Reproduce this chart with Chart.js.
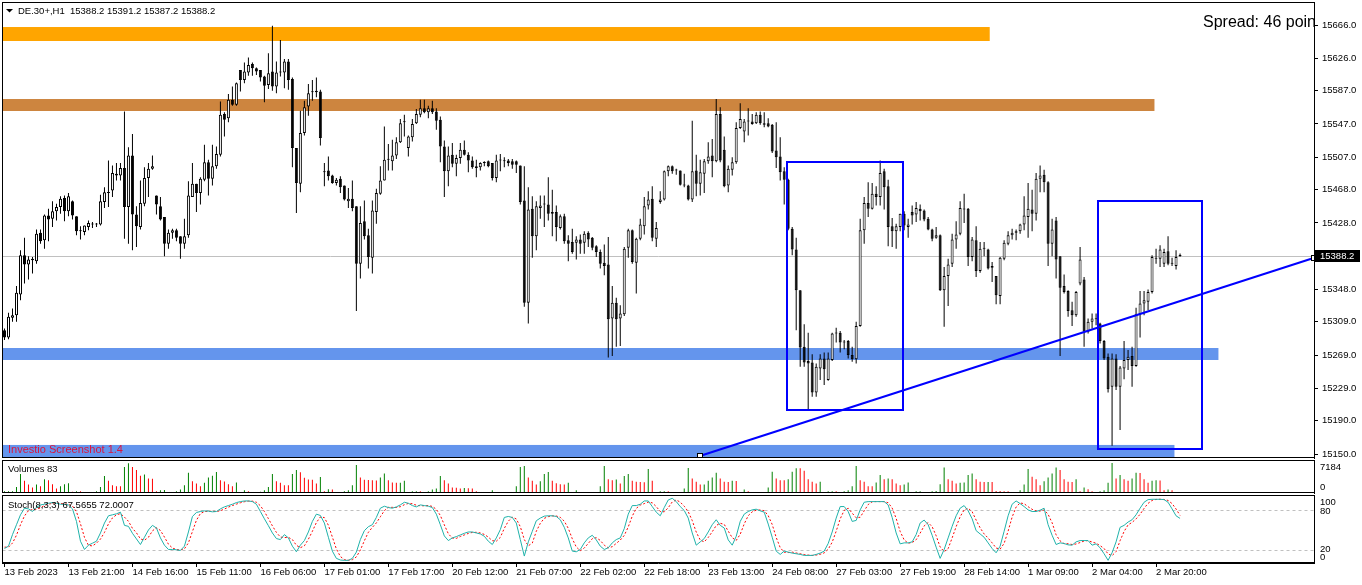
<!DOCTYPE html>
<html>
<head>
<meta charset="utf-8">
<script src="https://cdn.jsdelivr.net/npm/chart.js@4.4.1/dist/chart.umd.min.js"></script>
<style>
html, body { margin: 0; padding: 0; background: #fff; }
#wrap { position: relative; width: 1362px; height: 585px; overflow: hidden; background: #fff; }
canvas { position: absolute; left: 0; }
#cMain { top: 0; width: 1362px; height: 460px; }
#cVol { top: 460px; width: 1362px; height: 34px; }
#cSto { top: 494px; width: 1362px; height: 91px; }
</style>
</head>
<body>
<div id="wrap">
  <canvas id="cMain" width="1362" height="460"></canvas>
  <canvas id="cVol" width="1362" height="34"></canvas>
  <canvas id="cSto" width="1362" height="91"></canvas>
</div>
<script>
// DE.30+ H1, 13 Feb - 2 Mar 2023
const timeLabels = ["13 Feb 2023", "13 Feb 21:00", "14 Feb 16:00", "15 Feb 11:00", "16 Feb 06:00", "17 Feb 01:00",
  "17 Feb 17:00", "20 Feb 12:00", "21 Feb 07:00", "22 Feb 02:00", "22 Feb 18:00", "23 Feb 13:00", "24 Feb 08:00",
  "27 Feb 03:00", "27 Feb 19:00", "28 Feb 14:00", "1 Mar 09:00", "2 Mar 04:00", "2 Mar 20:00"];

const priceTicks = [15666.0, 15626.0, 15587.0, 15547.0, 15507.0, 15468.0, 15428.0,
  15348.0, 15309.0, 15269.0, 15229.0, 15190.0, 15150.0];

const opens = [
  15299,15290,15314,15317,15342,15389,15378,15383,15382,15416,
  15407,15437,15433,15442,15447,15458,15442,15454,15436,15419,
  15417,15423,15426,15426,15426,15453,15464,15467,15485,15485,
  15494,15447,15509,15438,15423,15451,15482,15493,15461,15448,
  15435,15403,15416,15419,15412,15403,15413,15459,15475,15464,
  15480,15501,15481,15496,15510,15559,15554,15576,15570,15612,
  15600,15609,15619,15614,15612,15604,15594,15610,15592,15609,
  15609,15622,15601,15518,15475,15536,15568,15585,15585,15586,
  15490,15491,15485,15476,15481,15473,15454,15457,15448,15379,
  15430,15413,15386,15441,15463,15479,15504,15502,15509,15525,
  15549,15518,15531,15548,15558,15566,15561,15566,15562,15552,
  15520,15490,15510,15499,15506,15516,15510,15503,15496,15495,
  15500,15502,15500,15482,15503,15502,15503,15502,15502,15497,
  15455,15332,15445,15412,15446,15450,15450,15441,15441,15422,
  15436,15407,15405,15404,15408,15404,15416,15410,15400,15393,
  15380,15378,15313,15332,15313,15318,15398,15419,15380,15409,
  15424,15449,15457,15409,15453,15456,15490,15496,15491,15491,
  15474,15473,15456,15491,15475,15487,15502,15509,15502,15559,
  15516,15473,15492,15501,15542,15538,15551,15550,15548,15558,
  15548,15548,15546,15515,15508,15490,15480,15421,15396,15347,
  15279,15262,15260,15224,15253,15265,15239,15263,15295,15296,
  15284,15286,15269,15264,15304,15419,15452,15445,15463,15459,
  15490,15472,15424,15418,15423,15439,15423,15441,15438,15445,
  15443,15433,15420,15410,15413,15347,15364,15379,15408,15415,
  15445,15445,15387,15407,15370,15397,15396,15376,15364,15340,
  15385,15403,15413,15416,15418,15426,15435,15444,15439,15481,
  15486,15477,15403,15431,15388,15352,15346,15323,15317,15355,
  15360,15297,15309,15312,15307,15286,15267,15231,15265,15231,
  15253,15263,15268,15256,15318,15331,15333,15345,15386,15385,
  15379,15394,15379,15376,15388.2];

const highs = [
  15301,15320,15325,15352,15395,15410,15388,15387,15420,15420,
  15438,15445,15454,15451,15460,15461,15464,15455,15436,15424,
  15425,15431,15429,15428,15462,15471,15503,15497,15500,15500,
  15562,15519,15535,15448,15479,15495,15500,15509,15461,15459,
  15435,15420,15421,15421,15412,15433,15478,15500,15475,15483,
  15522,15504,15522,15520,15574,15561,15583,15592,15597,15612,
  15621,15627,15621,15615,15612,15605,15632,15665,15622,15648,
  15625,15625,15603,15518,15563,15575,15595,15600,15603,15588,
  15500,15508,15486,15482,15484,15473,15470,15479,15448,15448,
  15455,15421,15455,15469,15496,15544,15523,15528,15531,15553,
  15558,15533,15553,15565,15576,15576,15569,15575,15566,15556,
  15527,15520,15524,15510,15524,15527,15513,15508,15504,15501,
  15502,15503,15500,15510,15511,15507,15505,15505,15503,15497,
  15496,15471,15460,15454,15461,15461,15483,15468,15449,15438,
  15439,15413,15421,15412,15414,15418,15418,15411,15401,15396,
  15402,15411,15352,15338,15329,15399,15421,15420,15410,15433,
  15459,15466,15472,15429,15466,15491,15497,15497,15493,15491,
  15487,15474,15551,15510,15504,15505,15525,15529,15577,15567,
  15532,15497,15507,15549,15572,15553,15566,15559,15561,15562,
  15561,15554,15547,15549,15531,15495,15481,15423,15410,15347,
  15306,15296,15270,15259,15270,15272,15272,15296,15302,15298,
  15287,15287,15279,15309,15433,15459,15477,15476,15472,15503,
  15493,15480,15434,15427,15439,15442,15433,15449,15453,15450,
  15444,15435,15421,15423,15414,15375,15385,15415,15430,15454,
  15463,15446,15411,15424,15405,15405,15397,15381,15364,15387,
  15407,15418,15421,15420,15427,15460,15476,15468,15488,15497,
  15492,15478,15433,15435,15388,15366,15347,15333,15346,15399,
  15363,15313,15319,15319,15308,15287,15271,15271,15270,15256,
  15286,15275,15279,15326,15346,15346,15348,15389,15397,15401,
  15397,15412,15386,15395,15391.2];

const lows = [
  15287,15288,15309,15309,15335,15355,15360,15367,15379,15403,
  15397,15406,15423,15431,15439,15430,15436,15432,15413,15408,
  15413,15419,15422,15423,15425,15446,15447,15459,15479,15479,
  15409,15403,15395,15399,15420,15448,15459,15492,15438,15431,
  15388,15397,15409,15406,15385,15397,15410,15459,15441,15450,
  15478,15461,15473,15493,15508,15532,15549,15569,15569,15586,
  15596,15605,15605,15606,15598,15573,15589,15587,15584,15604,
  15590,15588,15495,15440,15465,15533,15557,15575,15579,15521,
  15472,15479,15475,15473,15464,15455,15446,15442,15322,15361,
  15408,15373,15367,15427,15462,15479,15491,15491,15505,15524,
  15532,15508,15526,15547,15555,15560,15554,15559,15540,15501,
  15459,15472,15495,15484,15499,15509,15489,15493,15483,15491,
  15496,15495,15479,15477,15490,15495,15496,15493,15488,15450,
  15327,15307,15386,15395,15433,15423,15431,15412,15406,15420,
  15403,15382,15391,15384,15391,15391,15399,15395,15387,15373,
  15365,15266,15268,15279,15280,15316,15386,15379,15343,15407,
  15414,15444,15406,15399,15451,15455,15484,15487,15486,15473,
  15471,15455,15453,15460,15461,15464,15499,15483,15501,15501,
  15471,15465,15485,15499,15541,15525,15533,15546,15547,15546,
  15543,15543,15512,15494,15479,15450,15419,15389,15299,15255,
  15255,15203,15219,15219,15239,15233,15238,15262,15284,15272,
  15276,15265,15261,15259,15303,15403,15435,15444,15449,15449,
  15444,15400,15399,15397,15418,15419,15410,15426,15429,15431,
  15430,15419,15406,15409,15346,15303,15328,15375,15397,15413,
  15428,15376,15382,15363,15368,15388,15372,15357,15330,15330,
  15383,15401,15408,15407,15415,15419,15410,15418,15431,15465,
  15465,15376,15388,15361,15268,15343,15315,15304,15315,15353,
  15279,15295,15301,15305,15283,15263,15224,15160,15227,15179,
  15240,15251,15231,15255,15290,15317,15323,15343,15379,15375,
  15375,15377,15376,15372,15387.2];

const closes = [
  15290,15315,15317,15344,15389,15378,15384,15385,15415,15406,
  15437,15432,15442,15447,15457,15442,15460,15437,15418,15418,
  15425,15428,15427,15426,15454,15465,15465,15488,15487,15494,
  15447,15509,15438,15424,15452,15482,15493,15496,15450,15432,
  15403,15416,15419,15410,15403,15412,15461,15475,15464,15481,
  15501,15481,15496,15511,15558,15552,15576,15570,15596,15600,
  15610,15618,15614,15610,15603,15593,15608,15592,15609,15610,
  15622,15600,15518,15476,15536,15567,15584,15586,15587,15530,
  15489,15484,15476,15480,15471,15456,15457,15446,15379,15428,
  15412,15387,15443,15464,15479,15504,15505,15509,15525,15548,
  15550,15532,15547,15559,15566,15561,15566,15561,15551,15520,
  15490,15509,15499,15506,15516,15510,15503,15495,15494,15500,
  15500,15496,15482,15503,15503,15503,15500,15498,15498,15453,
  15332,15444,15412,15448,15449,15450,15439,15439,15423,15436,
  15406,15403,15393,15408,15403,15415,15408,15398,15393,15379,
  15376,15312,15332,15312,15319,15397,15419,15381,15409,15426,
  15448,15456,15410,15422,15456,15490,15496,15490,15491,15474,
  15473,15456,15490,15475,15489,15502,15508,15502,15559,15503,
  15472,15493,15501,15542,15553,15550,15550,15547,15558,15548,
  15546,15544,15514,15507,15489,15480,15421,15396,15347,15278,
  15260,15259,15224,15255,15265,15252,15265,15295,15296,15284,
  15284,15269,15264,15304,15419,15452,15445,15463,15459,15488,
  15471,15423,15418,15424,15439,15425,15426,15437,15446,15442,
  15432,15420,15409,15413,15347,15364,15378,15408,15414,15446,
  15444,15387,15408,15370,15397,15397,15373,15374,15341,15386,
  15404,15413,15416,15418,15426,15437,15445,15439,15481,15485,
  15477,15403,15420,15384,15350,15345,15322,15317,15345,15384,
  15297,15309,15313,15313,15286,15265,15228,15265,15231,15254,
  15263,15267,15256,15318,15331,15335,15345,15387,15385,15396,
  15393,15379,15379,15387,15388.2];

const volumes = [
  405,420,430,1458,4536,2916,2025,1296,2025,1620,
  3321,3078,2106,1053,1620,2106,2349,324,405,400,
  243,240,250,405,1458,4050,2916,1863,1620,1600,
  6237,7150,6200,5508,4131,4455,3483,3400,405,648,
  700,243,81,405,810,1863,4860,2835,2268,1620,
  2430,3726,4131,5022,3078,2754,2106,1620,2511,243,
  648,405,243,230,324,648,1458,4536,2835,2430,
  1863,1850,4536,5508,4941,3645,3240,3200,2268,3807,
  405,891,810,243,230,405,648,1863,6723,3726,
  3159,3100,3050,3000,3726,4698,3078,2511,2430,2450,
  2916,243,405,420,400,243,405,810,1053,4050,
  3078,2268,1296,1250,1053,1215,1150,1053,405,40,
  30,243,648,162,150,40,162,243,1620,6237,
  6480,3726,2916,2025,2835,4536,5022,2916,2349,2106,
  2050,2430,81,648,243,162,160,170,165,1620,
  6480,3321,3078,3240,2268,4050,4536,2916,2673,2650,
  2600,5751,2916,243,405,420,400,30,162,150,
  1053,5994,3483,2673,2025,2050,2916,3726,4860,3483,
  2673,2650,2916,2900,243,810,405,243,240,250,
  245,1296,5103,3483,3078,3050,3321,5103,5913,5900,
  5346,3321,2673,2268,2673,243,405,420,410,243,
  405,648,1620,6480,3078,2673,1620,1600,2511,4293,
  3321,3483,3321,2268,1863,2025,2511,243,405,420,
  243,230,405,486,2106,6075,3321,2916,2268,2430,
  2511,4293,4698,3321,2673,2650,2660,2640,486,480,
  405,400,243,240,648,2025,5751,3888,3321,1863,
  2835,3726,4698,6075,5508,3321,2673,2650,3321,405,
  1296,891,405,243,405,648,2430,7184,3483,4293,
  3321,2916,3483,4860,4800,3321,2430,2916,3078,3000,
  648,810,648,243,83];

// Stoch(8,3,3): main line and signal line
const stochMain = [
  22,25.5,43,58,73,83,82,78,84.5,88,
  89,90.5,91.5,90.5,89,89,88,82,63,33,
  20.5,27,30,33,45.5,60.5,71.5,73,74.5,77,
  57,55.5,45,36.5,28,39,50,57,53,38,
  27,20.5,20.5,20,19,25.5,47,70.5,76.5,78,
  79,78.5,77.5,78,82,85,87,89,91.5,93,
  94,94,93,89,78,67,56.5,45.5,37,35.5,
  43,38,25.5,17,27,34,47,63,74,72,
  60.5,39,18,7,4.5,4,4,7,16.5,35.5,
  49,55,58,69,83,86,84,83,85,88,
  92,90.5,87,85,88,87,86,84,74,58,
  41,34,38,40,42.5,45,47,47,45.5,44,
  40.5,33,28,38,50.5,69,70.5,69,60.5,35.5,
  10.5,32,48,64,68,71,71.5,71.5,70.5,65.5,
  54,38,18,17,20.5,30.5,38,42,35,25.5,
  20.5,23,30.5,35.5,38,52,74,87,87,89,
  94,94,85.5,77,71.5,84,95.5,98,93,85.5,
  79.5,68,45.5,27,32,37,47,58,65.5,57,
  53,35,27,40.5,63,74,78,80.5,81.5,79,
  77,59,39,18,13,18,16.5,15,14,13,
  11.5,11.5,11.5,13,15,18,29.5,47,68,85.5,
  85.5,78,63,64.5,80.5,92,93,93,93,93,
  93,88,69,45.5,29,30.5,30.5,32,43,60.5,
  65,58,42,24,7,20.5,38,55.5,71.5,83,
  87,79,67,49,44,39,30.5,22,15.5,25.5,
  48,71.5,89,94,90,85.5,80.5,78,78,80,
  83,58,42,28,30.5,29.5,27.5,27,32,34,
  34,34,27,29,23,14,4,15.5,32,54,
  57,62,65.5,73,83,92,96,96.5,96.5,96.5,
  96,92,82,71.5,67.5655];

const stochSignal = [
  24,24,30.2,42.2,58,71.3,79.3,81,81.5,83.5,
  87.2,89.2,90.3,90.8,90.3,89.5,88.7,86.3,77.7,59.3,
  38.8,26.8,25.8,30,36.2,46.3,59.2,68.3,73,74.8,
  69.5,63.2,52.5,45.7,36.5,34.5,39,48.7,53.3,49.3,
  39.3,28.5,22.7,20.3,19.8,21.5,30.5,47.7,64.7,75,
  77.8,78.5,78.3,78,79.2,81.7,84.7,87,89.2,91.2,
  92.8,93.7,93.7,92,86.7,78,67.2,56.3,46.3,39.3,
  38.5,38.8,35.5,26.8,23.2,26,36,48,61.3,69.7,
  68.8,57.2,39.2,21.3,9.8,5.2,4.2,5,9.2,19.7,
  33.7,46.5,54,60.7,70,79.3,84.3,84.3,84,85.3,
  88.3,90.2,89.8,87.5,86.7,86.7,87,85.7,81.3,72,
  57.7,44.3,37.7,37.3,40.2,42.5,44.8,46.3,46.5,45.5,
  43.3,39.2,33.8,33,38.8,52.5,63.3,69.5,66.7,55,
  35.5,26,30.2,48,60,67.7,70.2,71.3,71.2,69.2,
  63.3,52.5,36.7,24.3,18.5,22.7,29.7,36.8,38.3,34.2,
  27,23,24.7,29.7,34.7,41.8,54.7,71,82.7,87.7,
  90,92.3,91.2,85.5,78,77.5,83.7,92.5,95.5,92.2,
  86,77.7,64.3,46.8,34.8,32,38.7,47.3,56.8,60.2,
  58.5,48.3,38.3,34.2,43.5,59.2,71.7,77.5,80,80.3,
  79.2,71.7,58.3,38.7,23.3,16.3,15.8,16.5,15.2,14,
  12.8,12,11.5,12,13.2,15.3,20.8,31.5,48.2,66.8,
  79.7,83,75.5,68.5,69.3,79,88.5,92.7,93,93,
  93,91.3,83.3,67.5,47.8,35,30,31,35.2,45.2,
  56.2,61.2,55,41.3,24.3,17.2,21.8,38,55,70,
  80.5,83,77.7,65,53.3,44,37.8,30.5,22.7,21,
  29.7,48.3,69.5,84.8,91,89.8,85.3,81.3,78.8,78.7,
  80.3,73.7,61,42.7,33.5,29.3,29.2,28,28.8,31,
  33.3,34,31.7,30,26.3,22,13.7,11.2,17.2,33.8,
  47.7,57.7,61.5,66.8,73.8,82.7,90.3,94.8,96.3,96.5,
  96.3,94.8,90,81.8,72.0007];

// objects drawn on the price pane (bar index range, price range)
const zones = [
  { from: -20, to: 246.4, hi: 15663.6, lo: 15646.8, color: '#FFA500' },
  { from: -20, to: 287.6, hi: 15577.0, lo: 15562.6, color: '#CD853F' },
  { from: -20, to: 303.6, hi: 15277.5, lo: 15263.1, color: '#6495ED' },
  { from: -20, to: 292.6, hi: 15160.9, lo: 15120.0, color: '#6495ED' }
];
const boxes = [
  { from: 195.6, to: 224.6, hi: 15501.3, lo: 15203.0 },
  { from: 273.6, to: 299.6, hi: 15454.3, lo: 15156.4 }
];
const trend = { from: 173.9, p1: 15147.6, to: 327.4, p2: 15385.8 };

const FONT = '"Liberation Sans", Arial, sans-serif';
const last = closes.length - 1;
const N = 328;
const xLabels = Array.from({ length: N }, (_, i) => (i % 16 === 0 && timeLabels[i / 16]) || '');
const AXIS_X = 1314;

function fixY(s) {
  s.width = 48;
  s.paddingTop = 0; s.paddingBottom = 0; s.paddingLeft = 0; s.paddingRight = 0;
}

function txt(ctx, s, x, y, size, color) {
  ctx.font = size + 'px ' + FONT;
  ctx.fillStyle = color;
  ctx.textAlign = 'left';
  ctx.textBaseline = 'middle';
  ctx.fillText(s, x, y);
}

function frame(chart) {
  const { ctx, chartArea: a } = chart;
  ctx.save();
  ctx.strokeStyle = '#000';
  ctx.lineWidth = 1;
  ctx.strokeRect(2.5, a.top + 0.5, AXIS_X - 2, a.bottom - a.top - 1);
  ctx.restore();
}

function clipArea(chart) {
  const { ctx, chartArea: a } = chart;
  ctx.beginPath();
  ctx.rect(a.left, a.top, a.right - a.left, a.bottom - a.top);
  ctx.clip();
}

const mainOverlay = {
  id: 'mainOverlay',
  beforeDatasetsDraw(chart) {
    const { ctx, scales: { x, y } } = chart;
    ctx.save();
    clipArea(chart);
    zones.forEach(z => {
      const x1 = x.getPixelForValue(z.from), x2 = x.getPixelForValue(z.to);
      const y1 = y.getPixelForValue(z.hi), y2 = y.getPixelForValue(z.lo);
      ctx.fillStyle = z.color;
      ctx.fillRect(x1, y1, x2 - x1, y2 - y1);
    });
    const py = Math.round(y.getPixelForValue(closes[last])) + 0.5;
    ctx.strokeStyle = '#C0C0C0';
    ctx.lineWidth = 1;
    ctx.beginPath();
    ctx.moveTo(chart.chartArea.left, py);
    ctx.lineTo(chart.chartArea.right, py);
    ctx.stroke();
    ctx.restore();
  },
  afterDatasetsDraw(chart) {
    const { ctx, chartArea: a, scales: { x, y } } = chart;
    ctx.save();
    clipArea(chart);
    ctx.strokeStyle = '#0000FF';
    ctx.lineWidth = 2;
    boxes.forEach(b => {
      const x1 = Math.round(x.getPixelForValue(b.from)), x2 = Math.round(x.getPixelForValue(b.to));
      const y1 = Math.round(y.getPixelForValue(b.hi)), y2 = Math.round(y.getPixelForValue(b.lo));
      ctx.strokeRect(x1, y1, x2 - x1, y2 - y1);
    });
    const tx1 = x.getPixelForValue(trend.from), ty1 = y.getPixelForValue(trend.p1);
    const tx2 = x.getPixelForValue(trend.to), ty2 = y.getPixelForValue(trend.p2);
    ctx.beginPath();
    ctx.moveTo(tx1, ty1);
    ctx.lineTo(tx2, ty2);
    ctx.stroke();
    ctx.lineWidth = 1;
    ctx.strokeStyle = '#000';
    ctx.fillStyle = '#fff';
    [[tx1, ty1], [tx2, ty2]].forEach(p => {
      ctx.fillRect(Math.round(p[0]) - 2, Math.round(p[1]) - 2, 4, 4);
      ctx.strokeRect(Math.round(p[0]) - 2.5, Math.round(p[1]) - 2.5, 5, 5);
    });
    txt(ctx, 'Spread: 46 points', 1203, 22.5, 16, '#000');
    txt(ctx, 'Investio Screenshot 1.4', 8, 449.5, 11, '#DC143C');
    ctx.restore();

    // header
    ctx.save();
    ctx.fillStyle = '#000';
    ctx.beginPath();
    ctx.moveTo(6, 9); ctx.lineTo(13, 9); ctx.lineTo(9.5, 12.5); ctx.closePath();
    ctx.fill();
    txt(ctx, 'DE.30+,H1  ' + opens[last].toFixed(1) + ' ' + highs[last].toFixed(1) + ' ' +
      lows[last].toFixed(1) + ' ' + closes[last].toFixed(1), 18, 11, 9.5, '#000');
    ctx.restore();
  },
  afterDraw(chart) {
    frame(chart);
    const { ctx, scales: { y } } = chart;
    const py = Math.round(y.getPixelForValue(closes[last]));
    ctx.save();
    ctx.fillStyle = '#000';
    ctx.fillRect(AXIS_X + 1, py - 6, 45, 12);
    txt(ctx, closes[last].toFixed(1), AXIS_X + 6, py, 9.5, '#fff');
    ctx.restore();
  }
};

new Chart(document.getElementById('cMain'), {
  type: 'bar',
  data: {
    labels: xLabels,
    datasets: [
      {
        label: 'body',
        data: opens.map((o, i) => [o, closes[i]]),
        grouped: false,
        order: 0,
        barThickness: 3,
        borderWidth: 1,
        borderColor: '#000',
        borderSkipped: false,
        minBarLength: 1,
        inflateAmount: 0,
        backgroundColor: c => (closes[c.dataIndex] >= opens[c.dataIndex] ? '#fff' : '#000')
      },
      {
        label: 'wick',
        data: lows.map((l, i) => [l, highs[i]]),
        grouped: false,
        order: 1,
        barThickness: 1,
        borderWidth: 0,
        minBarLength: 1,
        inflateAmount: 0,
        backgroundColor: '#000'
      }
    ]
  },
  options: {
    responsive: false,
    maintainAspectRatio: false,
    animation: false,
    devicePixelRatio: 1,
    layout: { padding: { left: 2.5, top: 2, right: 0, bottom: 2 } },
    plugins: { legend: { display: false }, tooltip: { enabled: false } },
    scales: {
      x: { type: 'category', offset: true, display: false, grid: { offset: false } },
      y: {
        position: 'right',
        min: 15145.2,
        max: 15693.7,
        afterBuildTicks: s => { s.ticks = priceTicks.map(v => ({ value: v })); },
        afterFit: fixY,
        ticks: {
          autoSkip: false,
          padding: 4,
          color: '#000',
          font: { family: FONT, size: 9.5 },
          callback: v => Number(v).toFixed(1)
        },
        grid: { drawOnChartArea: false, drawTicks: true, tickLength: 4, color: '#000' },
        border: { display: true, color: '#000' }
      }
    }
  },
  plugins: [mainOverlay]
});

const volOverlay = {
  id: 'volOverlay',
  afterDraw(chart) {
    frame(chart);
    const { ctx } = chart;
    txt(ctx, 'Volumes ' + volumes[last], 8, 9, 9.5, '#000');
    txt(ctx, String(Math.max(...volumes)), AXIS_X + 6, 7, 9.5, '#000');
    txt(ctx, '0', AXIS_X + 6, 27, 9.5, '#000');
  }
};

new Chart(document.getElementById('cVol'), {
  type: 'bar',
  data: {
    labels: xLabels,
    datasets: [{
      data: volumes,
      grouped: false,
      barThickness: 1,
      borderWidth: 0,
      inflateAmount: 0,
      backgroundColor: c => (c.dataIndex === 0 || volumes[c.dataIndex] > volumes[c.dataIndex - 1] ? '#008000' : '#FF0000')
    }]
  },
  options: {
    responsive: false,
    maintainAspectRatio: false,
    animation: false,
    devicePixelRatio: 1,
    layout: { padding: { left: 2.5, top: 0, right: 0, bottom: 1 } },
    plugins: { legend: { display: false }, tooltip: { enabled: false } },
    scales: {
      x: { type: 'category', offset: true, display: false, grid: { offset: false } },
      y: {
        position: 'right',
        min: 0,
        max: 7900,
        afterFit: fixY,
        ticks: { display: false },
        grid: { display: false },
        border: { display: true, color: '#000' }
      }
    }
  },
  plugins: [volOverlay]
});

const stoOverlay = {
  id: 'stoOverlay',
  beforeDatasetsDraw(chart) {
    const { ctx, chartArea: a, scales: { y } } = chart;
    ctx.save();
    ctx.strokeStyle = '#C0C0C0';
    ctx.lineWidth = 1;
    ctx.setLineDash([3, 3]);
    [80, 20].forEach(v => {
      const py = Math.round(y.getPixelForValue(v)) + 0.5;
      ctx.beginPath();
      ctx.moveTo(a.left, py);
      ctx.lineTo(a.right, py);
      ctx.stroke();
    });
    ctx.restore();
  },
  afterDatasetsDraw(chart) {
    const { ctx } = chart;
    txt(ctx, 'Stoch(8,3,3) ' + stochMain[last] + ' ' + stochSignal[last], 8, 11, 9.5, '#000');
  },
  afterDraw(chart) {
    frame(chart);
    const { ctx, chartArea: a, scales: { y } } = chart;
    txt(ctx, '100', AXIS_X + 6, Math.max(y.getPixelForValue(100), a.top + 7), 9.5, '#000');
    txt(ctx, '80', AXIS_X + 6, y.getPixelForValue(80) + 1, 9.5, '#000');
    txt(ctx, '20', AXIS_X + 6, y.getPixelForValue(20), 9.5, '#000');
    txt(ctx, '0', AXIS_X + 6, Math.min(y.getPixelForValue(0), a.bottom - 6), 9.5, '#000');
  }
};

new Chart(document.getElementById('cSto'), {
  type: 'line',
  data: {
    labels: xLabels,
    datasets: [
      { data: stochMain, borderColor: '#20B2AA', borderWidth: 1, pointRadius: 0, tension: 0, order: 0 },
      { data: stochSignal, borderColor: '#FF0000', borderWidth: 1, borderDash: [2, 2], pointRadius: 0, tension: 0, order: 1 }
    ]
  },
  options: {
    responsive: false,
    maintainAspectRatio: false,
    animation: false,
    devicePixelRatio: 1,
    layout: { padding: { left: 2.5, top: 1, right: 0, bottom: 0 } },
    plugins: { legend: { display: false }, tooltip: { enabled: false } },
    scales: {
      x: {
        type: 'category',
        offset: true,
        afterBuildTicks: s => { s.ticks = s.ticks.filter(t => xLabels[t.value] !== ''); },
        afterFit: s => { s.height = 22; s.paddingLeft = 0; s.paddingRight = 0; },
        ticks: {
          autoSkip: false,
          maxRotation: 0,
          minRotation: 0,
          align: 'start',
          padding: 0,
          color: '#000',
          font: { family: FONT, size: 9.5 },
          callback: v => xLabels[v]
        },
        grid: { offset: false, drawOnChartArea: false, drawTicks: true, tickLength: 4, color: '#000' },
        border: { display: true, color: '#000' }
      },
      y: {
        position: 'right',
        min: 0,
        max: 103,
        afterFit: fixY,
        ticks: { display: false },
        grid: { display: false },
        border: { display: true, color: '#000' }
      }
    }
  },
  plugins: [stoOverlay]
});
</script>
</body>
</html>
